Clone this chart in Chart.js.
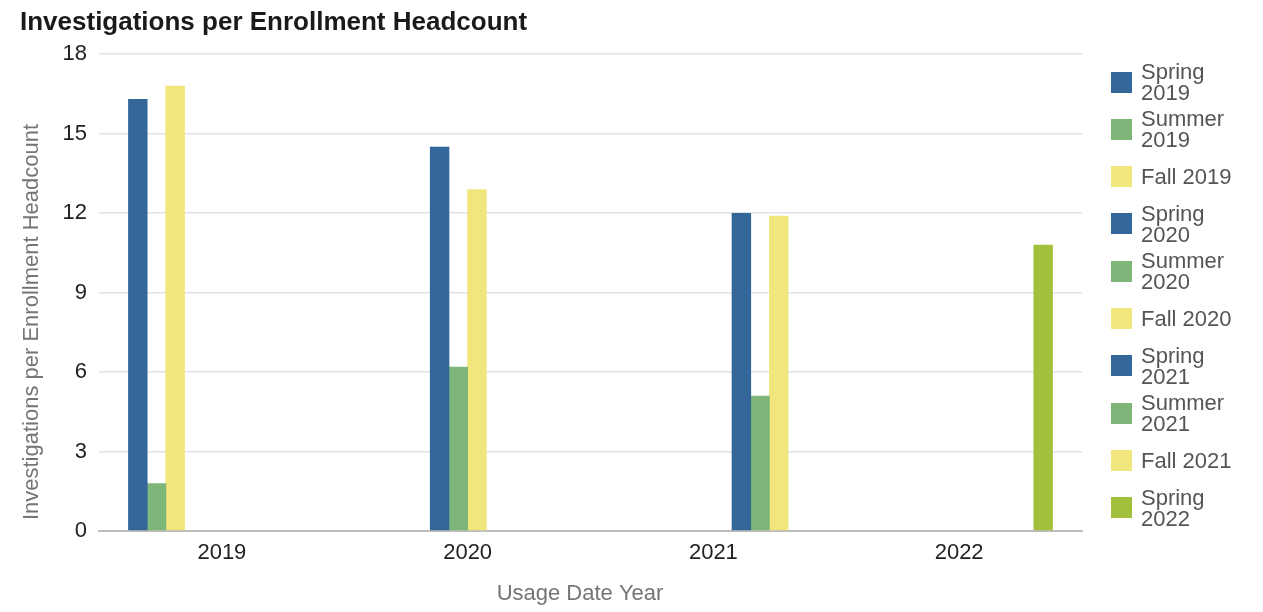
<!DOCTYPE html>
<html>
<head>
<meta charset="utf-8">
<script src="https://cdn.jsdelivr.net/npm/chart.js@4/dist/chart.umd.min.js"></script>
<style>
  html, body { margin: 0; padding: 0; background: #fff; }
  #wrap { position: relative; width: 1263px; height: 612px; }
  #chart { position: absolute; left: 0; top: 0; }
  #legend {
    position: absolute; left: 1111px; top: 58.4px; width: 150px;
    font-family: "Liberation Sans", Arial, sans-serif; font-size: 22px; color: #555;
  }
  .item { height: 47.3px; display: flex; align-items: center; }
  .box { width: 21px; height: 21px; flex: none; margin-right: 9px; }
  .txt { max-width: 112px; line-height: 21px; }
</style>
</head>
<body>
<div id="wrap">
  <canvas id="chart" width="1263" height="612"></canvas>
  <div id="legend"></div>
</div>
<script>
// Categories on the x axis
const years = ['2019', '2020', '2021', '2022'];

// One series per academic term, each falling in a single year
const terms = ['Spring 2019', 'Summer 2019', 'Fall 2019',
               'Spring 2020', 'Summer 2020', 'Fall 2020',
               'Spring 2021', 'Summer 2021', 'Fall 2021',
               'Spring 2022'];
const termYears = ['2019', '2019', '2019',
                   '2020', '2020', '2020',
                   '2021', '2021', '2021',
                   '2022'];
const termValues = [16.3, 1.8, 16.8,
                    14.5, 6.2, 12.9,
                    12.0, 5.1, 11.9,
                    10.8];

// Y axis tick values
const yTicks = [0, 3, 6, 9, 12, 15, 18];

// Axis titles
const xTitle = 'Usage Date Year';
const yTitle = 'Investigations per Enrollment Headcount';

// Season colours
const termColors = ['#336699', '#7eb67a', '#f1e67b',
                    '#336699', '#7eb67a', '#f1e67b',
                    '#336699', '#7eb67a', '#f1e67b',
                    '#a2c03b'];

const FONT = '"Liberation Sans", Arial, sans-serif';

const datasets = terms.map((name, i) => ({
  label: name,
  data: years.map(y => (y === termYears[i] ? termValues[i] : null)),
  backgroundColor: termColors[i],
  borderWidth: 0,
  categoryPercentage: 0.76,
  barPercentage: 1.04
}));

// Axis titles drawn at fixed spots beside the plot area
const axisTitles = {
  id: 'axisTitles',
  afterDraw(chart) {
    const ctx = chart.ctx;
    ctx.save();
    ctx.fillStyle = '#757575';
    ctx.font = '22px ' + FONT;
    ctx.textAlign = 'center';
    ctx.textBaseline = 'middle';
    ctx.fillText(xTitle, 580, 594);
    ctx.translate(32, 322);
    ctx.rotate(-Math.PI / 2);
    ctx.fillText(yTitle, 0, 0);
    ctx.restore();
  }
};

const chart = new Chart(document.getElementById('chart'), {
  type: 'bar',
  data: { labels: years, datasets },
  plugins: [axisTitles],
  options: {
    responsive: false,
    animation: false,
    layout: { padding: { left: 20, right: 181, top: 0, bottom: 4 } },
    plugins: {
      legend: { display: false },
      tooltip: { enabled: false },
      title: {
        display: true,
        text: 'Investigations per Enrollment Headcount',
        align: 'start',
        color: '#1a1a1a',
        font: { family: FONT, size: 26, weight: 'bold' },
        padding: { top: 7, bottom: 15.8 }
      }
    },
    scales: {
      x: {
        z: 1,
        grid: { display: false, drawTicks: false },
        border: { display: true, color: '#bdbdbd', width: 2 },
        ticks: { color: '#222', font: { family: FONT, size: 22 }, padding: 9 },
        afterFit: s => { s.height = 77; }
      },
      y: {
        z: 1,
        min: 0, max: 18,
        afterBuildTicks: s => { s.ticks = yTicks.map(v => ({ value: v })); },
        grid: { color: 'rgba(200,208,218,0.6)', lineWidth: 1.5, drawTicks: false },
        border: { display: false },
        ticks: { color: '#222', font: { family: FONT, size: 22 }, padding: 12 },
        afterFit: s => { s.width = 79; }
      }
    }
  }
});

// Legend built from the chart's datasets
const legend = document.getElementById('legend');
chart.data.datasets.forEach(ds => {
  const item = document.createElement('div');
  item.className = 'item';
  const box = document.createElement('div');
  box.className = 'box';
  box.style.background = ds.backgroundColor;
  const txt = document.createElement('div');
  txt.className = 'txt';
  txt.textContent = ds.label;
  item.appendChild(box);
  item.appendChild(txt);
  legend.appendChild(item);
});
</script>
</body>
</html>
